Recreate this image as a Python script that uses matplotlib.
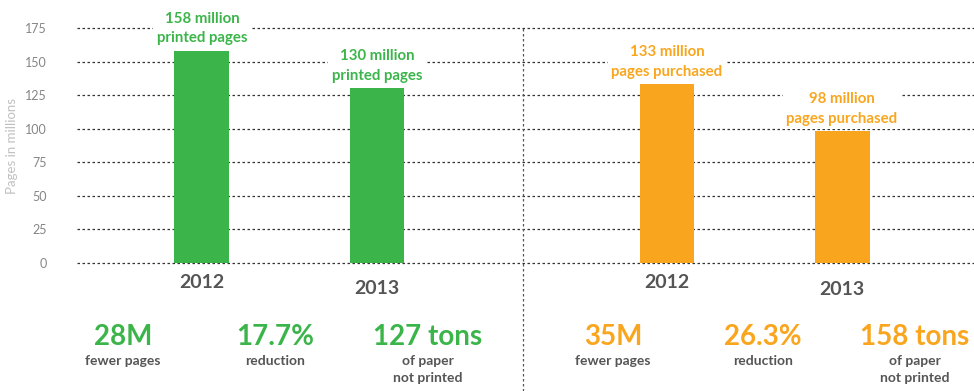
import matplotlib.pyplot as plt
from matplotlib.lines import Line2D

plt.rcParams['font.family'] = ['Lato', 'DejaVu Sans']

# datos
years = ["2012", "2013", "2012", "2013"]
pages = [158, 130, 133, 98]
bar_labels = ["158 million\nprinted pages", "130 million\nprinted pages",
              "133 million\npages purchased", "98 million\npages purchased"]
stat_values = ["28M", "17.7%", "127 tons", "35M", "26.3%", "158 tons"]
stat_notes = ["fewer pages", "reduction", "of paper\nnot printed",
              "fewer pages", "reduction", "of paper\nnot printed"]
yticks = [0, 25, 50, 75, 100, 125, 150, 175]

green = "#3bb54a"
orange = "#f9a61e"
colors = [green, green, orange, orange]
xpos = [0, 1, 2.657, 3.657]

fig = plt.figure(figsize=(9.74, 3.91), dpi=100)
ax = fig.add_axes([77 / 974, 1 - 263 / 391, 1 - 77 / 974, (263 - 28) / 391])

ax.bar(xpos, pages, width=0.314, color=colors, zorder=2)
ax.set_xlim(-0.714, 4.411)
ax.set_ylim(0, 175)

# rejilla punteada
for y in yticks:
    ax.axhline(y, color="#333333", lw=0.9, ls=(0, (2, 2)), zorder=1, clip_on=False)

ax.set_yticks(yticks)
ax.set_yticklabels([str(t) for t in yticks], color="#858585", fontsize=9)
ax.tick_params(axis="y", length=0, pad=22)
ax.set_xticks([])
ax.set_ylabel("Pages in millions", color="#c0c0c0", fontsize=9.5, labelpad=5)
for s in ax.spines.values():
    s.set_visible(False)

# etiquetas de barra
for x, v, lab, c in zip(xpos, pages, bar_labels, colors):
    ax.annotate(lab, (x, v), xytext=(0, 4), textcoords="offset points",
                ha="center", va="bottom", fontsize=10.8, fontweight="bold",
                color=c, linespacing=1.5, zorder=3,
                bbox=dict(facecolor="white", edgecolor="none", pad=2.5))

# años debajo de las barras
year_offsets = [-14, -18, -14, -19]
for x, yr, off in zip(xpos, years, year_offsets):
    ax.annotate(yr, (x, 0), xytext=(0, off), textcoords="offset points",
                ha="center", va="center", fontsize=14, fontweight="bold",
                color="#555555", annotation_clip=False)

# separador vertical
fig.add_artist(Line2D([523 / 974, 523 / 974], [0, 1 - 28 / 391],
                      transform=fig.transFigure, color="#555555", lw=0.9,
                      ls=(0, (2, 2))))

# estadísticas inferiores
stat_x = [123, 275, 428, 613, 763, 915]
stat_colors = [green] * 3 + [orange] * 3
for px, val, note, c in zip(stat_x, stat_values, stat_notes, stat_colors):
    fx = px / 974
    fig.text(fx, 1 - 337 / 391, val, ha="center", va="center",
             fontsize=20, fontweight="bold", color=c)
    fig.text(fx, 1 - 355 / 391, note, ha="center", va="top",
             fontsize=10, fontweight="bold", color="#555555", linespacing=1.5)

fig.savefig("out.png", dpi=100)
